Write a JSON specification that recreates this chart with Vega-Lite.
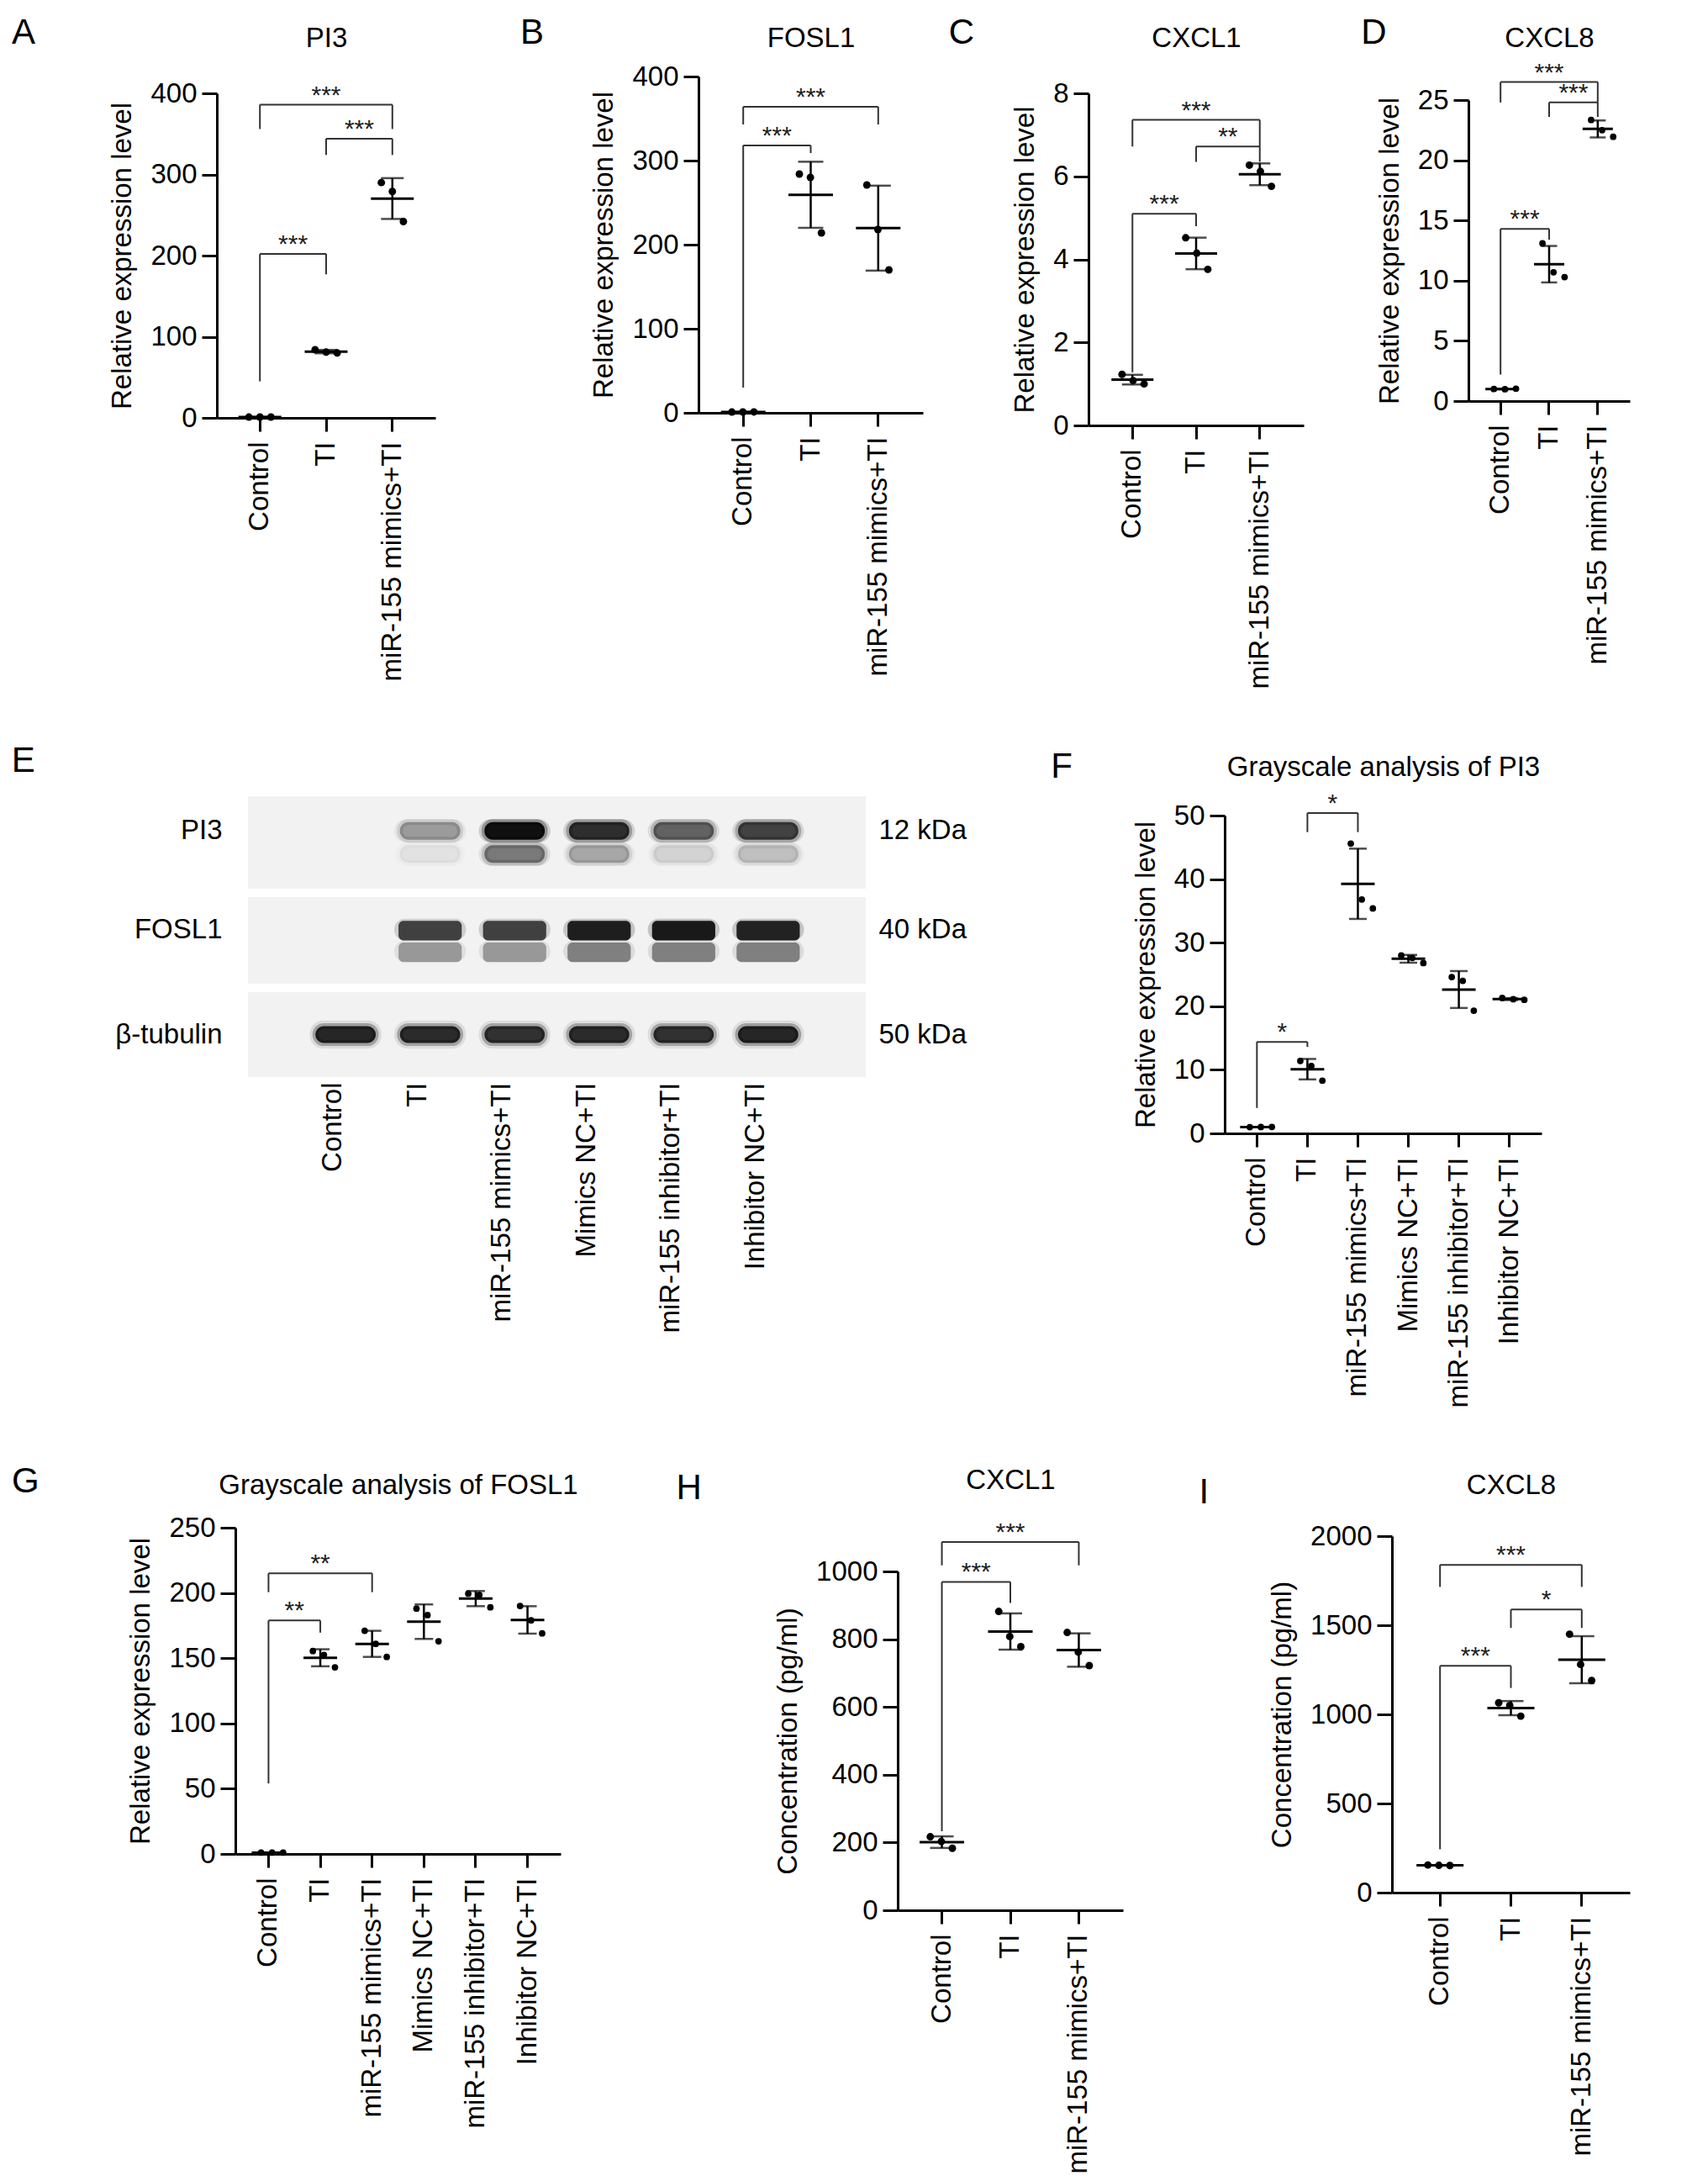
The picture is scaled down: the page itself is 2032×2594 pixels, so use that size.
{
"$schema": "https://vega.github.io/schema/vega-lite/v6.json",
"background": "white",
"padding": {"left": 12, "top": 18, "right": 5, "bottom": 5},
"config": {
 "font": "Liberation Sans",
 "view": {"stroke": null},
 "axis": {"labelFontSize": 33, "titleFontSize": 33, "titleFontWeight": "normal", "labelColor": "black", "titleColor": "black", "domainColor": "black", "tickColor": "black", "domainWidth": 3, "tickWidth": 3, "grid": false, "titleLimit": 1000},
 "title": {"fontSize": 42, "fontWeight": "normal", "anchor": "start", "frame": "bounds", "offset": 0, "color": "black"}
},
"datasets": {
 "pA": [{"g":"Control","r":1,"v":0.95},{"g":"Control","r":2,"v":1.0},{"g":"Control","r":3,"v":1.05},{"g":"TI","r":1,"v":84},{"g":"TI","r":2,"v":81},{"g":"TI","r":3,"v":80},{"g":"miR-155 mimics+TI","r":1,"v":290},{"g":"miR-155 mimics+TI","r":2,"v":279},{"g":"miR-155 mimics+TI","r":3,"v":242}],
 "bA": [{"a":"Control","b":"TI","m":"m1","top":202,"fa":45,"fb":177,"s":"***"},{"a":"Control","b":"miR-155 mimics+TI","m":"TI","top":386,"fa":356,"fb":356,"s":"***"},{"a":"TI","b":"miR-155 mimics+TI","m":"m2","top":344,"fa":324,"fb":324,"s":"***"}],
 "pB": [{"g":"Control","r":1,"v":0.95},{"g":"Control","r":2,"v":1.0},{"g":"Control","r":3,"v":1.05},{"g":"TI","r":1,"v":284},{"g":"TI","r":2,"v":280},{"g":"TI","r":3,"v":214},{"g":"miR-155 mimics+TI","r":1,"v":271},{"g":"miR-155 mimics+TI","r":2,"v":218},{"g":"miR-155 mimics+TI","r":3,"v":170}],
 "bB": [{"a":"Control","b":"TI","m":"m1","top":318,"fa":30,"fb":309,"s":"***"},{"a":"Control","b":"miR-155 mimics+TI","m":"TI","top":364,"fa":343,"fb":343,"s":"***"}],
 "pC": [{"g":"Control","r":1,"v":1.23},{"g":"Control","r":2,"v":1.08},{"g":"Control","r":3,"v":1.0},{"g":"TI","r":1,"v":4.52},{"g":"TI","r":2,"v":4.15},{"g":"TI","r":3,"v":3.76},{"g":"miR-155 mimics+TI","r":1,"v":6.27},{"g":"miR-155 mimics+TI","r":2,"v":6.12},{"g":"miR-155 mimics+TI","r":3,"v":5.76}],
 "bC": [{"a":"Control","b":"TI","m":"m1","top":5.1,"fa":1.28,"fb":4.8,"s":"***"},{"a":"Control","b":"miR-155 mimics+TI","m":"TI","top":7.36,"fa":6.72,"fb":6.72,"s":"***"},{"a":"TI","b":"miR-155 mimics+TI","m":"m2","top":6.72,"fa":6.35,"fb":6.35,"s":"**"}],
 "pD": [{"g":"Control","r":1,"v":1.0},{"g":"Control","r":2,"v":0.98},{"g":"Control","r":3,"v":1.03},{"g":"TI","r":1,"v":13.1},{"g":"TI","r":2,"v":10.7},{"g":"TI","r":3,"v":10.3},{"g":"miR-155 mimics+TI","r":1,"v":23.35},{"g":"miR-155 mimics+TI","r":2,"v":22.5},{"g":"miR-155 mimics+TI","r":3,"v":21.95}],
 "bD": [{"a":"Control","b":"TI","m":"m1","top":14.3,"fa":2.2,"fb":13.4,"s":"***"},{"a":"Control","b":"miR-155 mimics+TI","m":"TI","top":26.5,"fa":24.8,"fb":24.8,"s":"***"},{"a":"TI","b":"miR-155 mimics+TI","m":"m2","top":24.8,"fa":23.6,"fb":23.6,"s":"***"}],
 "pF": [{"g":"Control","r":1,"v":0.98},{"g":"Control","r":2,"v":1.0},{"g":"Control","r":3,"v":1.02},{"g":"TI","r":1,"v":11.4},{"g":"TI","r":2,"v":10.6},{"g":"TI","r":3,"v":8.3},{"g":"miR-155 mimics+TI","r":1,"v":45.6},{"g":"miR-155 mimics+TI","r":2,"v":36.8},{"g":"miR-155 mimics+TI","r":3,"v":35.4},{"g":"Mimics NC+TI","r":1,"v":28.0},{"g":"Mimics NC+TI","r":2,"v":27.6},{"g":"Mimics NC+TI","r":3,"v":26.8},{"g":"miR-155 inhibitor+TI","r":1,"v":24.6},{"g":"miR-155 inhibitor+TI","r":2,"v":24.0},{"g":"miR-155 inhibitor+TI","r":3,"v":19.3},{"g":"Inhibitor NC+TI","r":1,"v":21.3},{"g":"Inhibitor NC+TI","r":2,"v":21.1},{"g":"Inhibitor NC+TI","r":3,"v":21.0}],
 "bF": [{"a":"Control","b":"TI","m":"m1","top":14.4,"fa":4.0,"fb":13.6,"s":"*"},{"a":"TI","b":"miR-155 mimics+TI","m":"m2","top":50.4,"fa":47.4,"fb":47.4,"s":"*"}],
 "pG": [{"g":"Control","r":1,"v":0.98},{"g":"Control","r":2,"v":1.0},{"g":"Control","r":3,"v":1.02},{"g":"TI","r":1,"v":155.5},{"g":"TI","r":2,"v":152.5},{"g":"TI","r":3,"v":143},{"g":"miR-155 mimics+TI","r":1,"v":171},{"g":"miR-155 mimics+TI","r":2,"v":161},{"g":"miR-155 mimics+TI","r":3,"v":151},{"g":"Mimics NC+TI","r":1,"v":188},{"g":"Mimics NC+TI","r":2,"v":183},{"g":"Mimics NC+TI","r":3,"v":163},{"g":"miR-155 inhibitor+TI","r":1,"v":199.5},{"g":"miR-155 inhibitor+TI","r":2,"v":198.5},{"g":"miR-155 inhibitor+TI","r":3,"v":189},{"g":"Inhibitor NC+TI","r":1,"v":190},{"g":"Inhibitor NC+TI","r":2,"v":179},{"g":"Inhibitor NC+TI","r":3,"v":169}],
 "bG": [{"a":"Control","b":"TI","m":"m1","top":178.9,"fa":54,"fb":169.6,"s":"**"},{"a":"Control","b":"miR-155 mimics+TI","m":"TI","top":215,"fa":200.6,"fb":200.6,"s":"**"}],
 "pH": [{"g":"Control","r":1,"v":217},{"g":"Control","r":2,"v":203},{"g":"Control","r":3,"v":183},{"g":"TI","r":1,"v":882},{"g":"TI","r":2,"v":808},{"g":"TI","r":3,"v":778},{"g":"miR-155 mimics+TI","r":1,"v":820},{"g":"miR-155 mimics+TI","r":2,"v":762},{"g":"miR-155 mimics+TI","r":3,"v":722}],
 "bH": [{"a":"Control","b":"TI","m":"m1","top":969,"fa":233,"fb":907,"s":"***"},{"a":"Control","b":"miR-155 mimics+TI","m":"TI","top":1087,"fa":1018,"fb":1018,"s":"***"}],
 "pI": [{"g":"Control","r":1,"v":155},{"g":"Control","r":2,"v":153},{"g":"Control","r":3,"v":152},{"g":"TI","r":1,"v":1065},{"g":"TI","r":2,"v":1050},{"g":"TI","r":3,"v":990},{"g":"miR-155 mimics+TI","r":1,"v":1450},{"g":"miR-155 mimics+TI","r":2,"v":1280},{"g":"miR-155 mimics+TI","r":3,"v":1190}],
 "bI": [{"a":"Control","b":"TI","m":"m1","top":1272,"fa":243,"fb":1148,"s":"***"},{"a":"Control","b":"miR-155 mimics+TI","m":"TI","top":1839,"fa":1715,"fb":1715,"s":"***"},{"a":"TI","b":"miR-155 mimics+TI","m":"m2","top":1588,"fa":1485,"fb":1485,"s":"*"}],
 "blot": [
  {"s":"P","lane":"Control","row":"PI3","I":0},{"s":"P","lane":"TI","row":"PI3","I":0.35},{"s":"P","lane":"miR-155 mimics+TI","row":"PI3","I":1.0},{"s":"P","lane":"Mimics NC+TI","row":"PI3","I":0.85},{"s":"P","lane":"miR-155 inhibitor+TI","row":"PI3","I":0.6},{"s":"P","lane":"Inhibitor NC+TI","row":"PI3","I":0.75},
  {"s":"P","lane":"Control","row":"p-low","I":0},{"s":"P","lane":"TI","row":"p-low","I":0.06},{"s":"P","lane":"miR-155 mimics+TI","row":"p-low","I":0.5},{"s":"P","lane":"Mimics NC+TI","row":"p-low","I":0.3},{"s":"P","lane":"miR-155 inhibitor+TI","row":"p-low","I":0.12},{"s":"P","lane":"Inhibitor NC+TI","row":"p-low","I":0.2},
  {"s":"F","lane":"Control","row":"FOSL1","I":0},{"s":"F","lane":"TI","row":"FOSL1","I":0.75},{"s":"F","lane":"miR-155 mimics+TI","row":"FOSL1","I":0.75},{"s":"F","lane":"Mimics NC+TI","row":"FOSL1","I":0.92},{"s":"F","lane":"miR-155 inhibitor+TI","row":"FOSL1","I":0.95},{"s":"F","lane":"Inhibitor NC+TI","row":"FOSL1","I":0.9},
  {"s":"F","lane":"Control","row":"f-smear","I":0},{"s":"F","lane":"TI","row":"f-smear","I":0.35},{"s":"F","lane":"miR-155 mimics+TI","row":"f-smear","I":0.35},{"s":"F","lane":"Mimics NC+TI","row":"f-smear","I":0.45},{"s":"F","lane":"miR-155 inhibitor+TI","row":"f-smear","I":0.45},{"s":"F","lane":"Inhibitor NC+TI","row":"f-smear","I":0.45},
  {"s":"T","lane":"Control","row":"β-tubulin","I":0.9},{"s":"T","lane":"TI","row":"β-tubulin","I":0.88},{"s":"T","lane":"miR-155 mimics+TI","row":"β-tubulin","I":0.85},{"s":"T","lane":"Mimics NC+TI","row":"β-tubulin","I":0.88},{"s":"T","lane":"miR-155 inhibitor+TI","row":"β-tubulin","I":0.85},{"s":"T","lane":"Inhibitor NC+TI","row":"β-tubulin","I":0.9}
 ]
},
"spacing": 64,
"vconcat": [
 {"spacing": 0, "hconcat": [
  {"width": 1, "height": 1, "data": {"values": []}, "mark": "point"},
  {"spacing": 30, "hconcat": [
   {"spacing": 100, "hconcat": [
    {"title": {"text": "A", "dx": -116, "dy": 36}, "width": 260, "height": 406, "resolve": {"axis": {"x": "independent", "y": "independent"}},
     "layer": [
      {"data": {"name": "bA"}, "mark": {"type": "rule", "color": "#333", "strokeWidth": 2}, "encoding": {"x": {"field": "a", "type": "nominal", "scale": {"type": "band", "domain": ["Control","m1","TI","m2","miR-155 mimics+TI"], "paddingInner": 0, "paddingOuter": 0.8}, "axis": null}, "x2": {"field": "b"}, "y": {"field": "top", "type": "quantitative", "scale": {"domain": [0,400], "nice": false, "range": [406,20]}, "axis": null}}},
      {"data": {"name": "bA"}, "mark": {"type": "rule", "color": "#333", "strokeWidth": 2}, "encoding": {"x": {"field": "a", "type": "nominal", "scale": {"type": "band", "domain": ["Control","m1","TI","m2","miR-155 mimics+TI"], "paddingInner": 0, "paddingOuter": 0.8}, "axis": null}, "y": {"field": "fa", "type": "quantitative", "scale": {"domain": [0,400], "nice": false, "range": [406,20]}, "axis": null}, "y2": {"field": "top"}}},
      {"data": {"name": "bA"}, "mark": {"type": "rule", "color": "#333", "strokeWidth": 2}, "encoding": {"x": {"field": "b", "type": "nominal", "scale": {"type": "band", "domain": ["Control","m1","TI","m2","miR-155 mimics+TI"], "paddingInner": 0, "paddingOuter": 0.8}, "axis": null}, "y": {"field": "fb", "type": "quantitative", "scale": {"domain": [0,400], "nice": false, "range": [406,20]}, "axis": null}, "y2": {"field": "top"}}},
      {"data": {"name": "bA"}, "mark": {"type": "text", "fontSize": 30, "baseline": "alphabetic", "dy": -2, "color": "#222"}, "encoding": {"x": {"field": "m", "type": "nominal", "scale": {"type": "band", "domain": ["Control","m1","TI","m2","miR-155 mimics+TI"], "paddingInner": 0, "paddingOuter": 0.8}, "axis": null}, "y": {"field": "top", "type": "quantitative", "scale": {"domain": [0,400], "nice": false, "range": [406,20]}, "axis": null}, "text": {"field": "s"}}},
      {"data": {"name": "pA"}, "mark": {"type": "errorbar", "extent": "stdev", "color": "black", "rule": {"strokeWidth": 2.5}, "ticks": {"size": 27, "thickness": 2.5}}, "encoding": {"x": {"field": "g", "type": "nominal", "scale": {"type": "band", "domain": ["Control","m1","TI","m2","miR-155 mimics+TI"], "paddingInner": 0, "paddingOuter": 0.8}, "axis": null}, "y": {"field": "v", "type": "quantitative", "scale": {"domain": [0,400], "nice": false, "range": [406,20]}, "axis": null}}},
      {"data": {"name": "pA"}, "mark": {"type": "tick", "color": "black", "size": 51, "thickness": 3}, "encoding": {"x": {"field": "g", "type": "nominal", "scale": {"type": "band", "domain": ["Control","m1","TI","m2","miR-155 mimics+TI"], "paddingInner": 0, "paddingOuter": 0.8}, "axis": {"orient": "top", "title": "PI3", "domain": false, "ticks": false, "labels": false, "titlePadding": 29}}, "y": {"field": "v", "aggregate": "mean", "type": "quantitative", "scale": {"domain": [0,400], "nice": false, "range": [406,20]}, "axis": null}}},
      {"data": {"name": "pA"}, "mark": {"type": "point", "filled": true, "color": "black", "size": 80, "opacity": 1}, "encoding": {"x": {"field": "g", "type": "nominal", "scale": {"type": "band", "domain": ["Control","m1","TI","m2","miR-155 mimics+TI"], "paddingInner": 0, "paddingOuter": 0.8}, "axis": {"orient": "bottom", "values": ["Control","TI","miR-155 mimics+TI"], "labelAngle": -90, "tickSize": 16, "labelPadding": 12, "title": null, "labelLimit": 0}}, "xOffset": {"field": "r", "type": "nominal"}, "y": {"field": "v", "type": "quantitative", "scale": {"domain": [0,400], "nice": false, "range": [406,20]}, "axis": {"values": [0,100,200,300,400], "tickSize": 18, "labelPadding": 6, "title": "Relative expression level", "titlePadding": 16}}}}
     ]},
    {"title": {"text": "B", "dx": -84, "dy": 36}, "width": 267, "height": 400, "resolve": {"axis": {"x": "independent", "y": "independent"}},
     "layer": [
      {"data": {"name": "bB"}, "mark": {"type": "rule", "color": "#333", "strokeWidth": 2}, "encoding": {"x": {"field": "a", "type": "nominal", "scale": {"type": "band", "domain": ["Control","m1","TI","m2","miR-155 mimics+TI"], "paddingInner": 0, "paddingOuter": 0.825}, "axis": null}, "x2": {"field": "b"}, "y": {"field": "top", "type": "quantitative", "scale": {"domain": [0,400], "nice": false}, "axis": null}}},
      {"data": {"name": "bB"}, "mark": {"type": "rule", "color": "#333", "strokeWidth": 2}, "encoding": {"x": {"field": "a", "type": "nominal", "scale": {"type": "band", "domain": ["Control","m1","TI","m2","miR-155 mimics+TI"], "paddingInner": 0, "paddingOuter": 0.825}, "axis": null}, "y": {"field": "fa", "type": "quantitative", "scale": {"domain": [0,400], "nice": false}, "axis": null}, "y2": {"field": "top"}}},
      {"data": {"name": "bB"}, "mark": {"type": "rule", "color": "#333", "strokeWidth": 2}, "encoding": {"x": {"field": "b", "type": "nominal", "scale": {"type": "band", "domain": ["Control","m1","TI","m2","miR-155 mimics+TI"], "paddingInner": 0, "paddingOuter": 0.825}, "axis": null}, "y": {"field": "fb", "type": "quantitative", "scale": {"domain": [0,400], "nice": false}, "axis": null}, "y2": {"field": "top"}}},
      {"data": {"name": "bB"}, "mark": {"type": "text", "fontSize": 30, "baseline": "alphabetic", "dy": -2, "color": "#222"}, "encoding": {"x": {"field": "m", "type": "nominal", "scale": {"type": "band", "domain": ["Control","m1","TI","m2","miR-155 mimics+TI"], "paddingInner": 0, "paddingOuter": 0.825}, "axis": null}, "y": {"field": "top", "type": "quantitative", "scale": {"domain": [0,400], "nice": false}, "axis": null}, "text": {"field": "s"}}},
      {"data": {"name": "pB"}, "mark": {"type": "errorbar", "extent": "stdev", "color": "black", "rule": {"strokeWidth": 2.5}, "ticks": {"size": 30, "thickness": 2.5}}, "encoding": {"x": {"field": "g", "type": "nominal", "scale": {"type": "band", "domain": ["Control","m1","TI","m2","miR-155 mimics+TI"], "paddingInner": 0, "paddingOuter": 0.825}, "axis": null}, "y": {"field": "v", "type": "quantitative", "scale": {"domain": [0,400], "nice": false}, "axis": null}}},
      {"data": {"name": "pB"}, "mark": {"type": "tick", "color": "black", "size": 53, "thickness": 3}, "encoding": {"x": {"field": "g", "type": "nominal", "scale": {"type": "band", "domain": ["Control","m1","TI","m2","miR-155 mimics+TI"], "paddingInner": 0, "paddingOuter": 0.825}, "axis": {"orient": "top", "title": "FOSL1", "domain": false, "ticks": false, "labels": false, "titlePadding": 29}}, "y": {"field": "v", "aggregate": "mean", "type": "quantitative", "scale": {"domain": [0,400], "nice": false}, "axis": null}}},
      {"data": {"name": "pB"}, "mark": {"type": "point", "filled": true, "color": "black", "size": 80, "opacity": 1}, "encoding": {"x": {"field": "g", "type": "nominal", "scale": {"type": "band", "domain": ["Control","m1","TI","m2","miR-155 mimics+TI"], "paddingInner": 0, "paddingOuter": 0.825}, "axis": {"orient": "bottom", "values": ["Control","TI","miR-155 mimics+TI"], "labelAngle": -90, "tickSize": 16, "labelPadding": 12, "title": null, "labelLimit": 0}}, "xOffset": {"field": "r", "type": "nominal"}, "y": {"field": "v", "type": "quantitative", "scale": {"domain": [0,400], "nice": false}, "axis": {"values": [0,100,200,300,400], "tickSize": 18, "labelPadding": 6, "title": "Relative expression level", "titlePadding": 16}}}}
     ]}
   ]},
   {"spacing": 68, "hconcat": [
    {"title": {"text": "C", "dx": -75, "dy": 36}, "width": 256, "height": 415, "resolve": {"axis": {"x": "independent", "y": "independent"}},
     "layer": [
      {"data": {"name": "bC"}, "mark": {"type": "rule", "color": "#333", "strokeWidth": 2}, "encoding": {"x": {"field": "a", "type": "nominal", "scale": {"type": "band", "domain": ["Control","m1","TI","m2","miR-155 mimics+TI"], "paddingInner": 0, "paddingOuter": 0.88}, "axis": null}, "x2": {"field": "b"}, "y": {"field": "top", "type": "quantitative", "scale": {"domain": [0,8], "nice": false, "range": [415,20]}, "axis": null}}},
      {"data": {"name": "bC"}, "mark": {"type": "rule", "color": "#333", "strokeWidth": 2}, "encoding": {"x": {"field": "a", "type": "nominal", "scale": {"type": "band", "domain": ["Control","m1","TI","m2","miR-155 mimics+TI"], "paddingInner": 0, "paddingOuter": 0.88}, "axis": null}, "y": {"field": "fa", "type": "quantitative", "scale": {"domain": [0,8], "nice": false, "range": [415,20]}, "axis": null}, "y2": {"field": "top"}}},
      {"data": {"name": "bC"}, "mark": {"type": "rule", "color": "#333", "strokeWidth": 2}, "encoding": {"x": {"field": "b", "type": "nominal", "scale": {"type": "band", "domain": ["Control","m1","TI","m2","miR-155 mimics+TI"], "paddingInner": 0, "paddingOuter": 0.88}, "axis": null}, "y": {"field": "fb", "type": "quantitative", "scale": {"domain": [0,8], "nice": false, "range": [415,20]}, "axis": null}, "y2": {"field": "top"}}},
      {"data": {"name": "bC"}, "mark": {"type": "text", "fontSize": 30, "baseline": "alphabetic", "dy": -2, "color": "#222"}, "encoding": {"x": {"field": "m", "type": "nominal", "scale": {"type": "band", "domain": ["Control","m1","TI","m2","miR-155 mimics+TI"], "paddingInner": 0, "paddingOuter": 0.88}, "axis": null}, "y": {"field": "top", "type": "quantitative", "scale": {"domain": [0,8], "nice": false, "range": [415,20]}, "axis": null}, "text": {"field": "s"}}},
      {"data": {"name": "pC"}, "mark": {"type": "errorbar", "extent": "stdev", "color": "black", "rule": {"strokeWidth": 2.5}, "ticks": {"size": 25, "thickness": 2.5}}, "encoding": {"x": {"field": "g", "type": "nominal", "scale": {"type": "band", "domain": ["Control","m1","TI","m2","miR-155 mimics+TI"], "paddingInner": 0, "paddingOuter": 0.88}, "axis": null}, "y": {"field": "v", "type": "quantitative", "scale": {"domain": [0,8], "nice": false, "range": [415,20]}, "axis": null}}},
      {"data": {"name": "pC"}, "mark": {"type": "tick", "color": "black", "size": 50, "thickness": 3}, "encoding": {"x": {"field": "g", "type": "nominal", "scale": {"type": "band", "domain": ["Control","m1","TI","m2","miR-155 mimics+TI"], "paddingInner": 0, "paddingOuter": 0.88}, "axis": {"orient": "top", "title": "CXCL1", "domain": false, "ticks": false, "labels": false, "titlePadding": 29}}, "y": {"field": "v", "aggregate": "mean", "type": "quantitative", "scale": {"domain": [0,8], "nice": false, "range": [415,20]}, "axis": null}}},
      {"data": {"name": "pC"}, "mark": {"type": "point", "filled": true, "color": "black", "size": 80, "opacity": 1}, "encoding": {"x": {"field": "g", "type": "nominal", "scale": {"type": "band", "domain": ["Control","m1","TI","m2","miR-155 mimics+TI"], "paddingInner": 0, "paddingOuter": 0.88}, "axis": {"orient": "bottom", "values": ["Control","TI","miR-155 mimics+TI"], "labelAngle": -90, "tickSize": 16, "labelPadding": 12, "title": null, "labelLimit": 0}}, "xOffset": {"field": "r", "type": "nominal"}, "y": {"field": "v", "type": "quantitative", "scale": {"domain": [0,8], "nice": false, "range": [415,20]}, "axis": {"values": [0,2,4,6,8], "tickSize": 18, "labelPadding": 6, "title": "Relative expression level", "titlePadding": 16}}}}
     ]},
    {"title": {"text": "D", "dx": -18, "dy": 36}, "width": 192, "height": 386, "resolve": {"axis": {"x": "independent", "y": "independent"}},
     "layer": [
      {"data": {"name": "bD"}, "mark": {"type": "rule", "color": "#333", "strokeWidth": 2}, "encoding": {"x": {"field": "a", "type": "nominal", "scale": {"type": "band", "domain": ["Control","m1","TI","m2","miR-155 mimics+TI"], "paddingInner": 0, "paddingOuter": 0.82}, "axis": null}, "x2": {"field": "b"}, "y": {"field": "top", "type": "quantitative", "scale": {"domain": [0,25], "nice": false, "range": [386,28]}, "axis": null}}},
      {"data": {"name": "bD"}, "mark": {"type": "rule", "color": "#333", "strokeWidth": 2}, "encoding": {"x": {"field": "a", "type": "nominal", "scale": {"type": "band", "domain": ["Control","m1","TI","m2","miR-155 mimics+TI"], "paddingInner": 0, "paddingOuter": 0.82}, "axis": null}, "y": {"field": "fa", "type": "quantitative", "scale": {"domain": [0,25], "nice": false, "range": [386,28]}, "axis": null}, "y2": {"field": "top"}}},
      {"data": {"name": "bD"}, "mark": {"type": "rule", "color": "#333", "strokeWidth": 2}, "encoding": {"x": {"field": "b", "type": "nominal", "scale": {"type": "band", "domain": ["Control","m1","TI","m2","miR-155 mimics+TI"], "paddingInner": 0, "paddingOuter": 0.82}, "axis": null}, "y": {"field": "fb", "type": "quantitative", "scale": {"domain": [0,25], "nice": false, "range": [386,28]}, "axis": null}, "y2": {"field": "top"}}},
      {"data": {"name": "bD"}, "mark": {"type": "text", "fontSize": 30, "baseline": "alphabetic", "dy": -2, "color": "#222"}, "encoding": {"x": {"field": "m", "type": "nominal", "scale": {"type": "band", "domain": ["Control","m1","TI","m2","miR-155 mimics+TI"], "paddingInner": 0, "paddingOuter": 0.82}, "axis": null}, "y": {"field": "top", "type": "quantitative", "scale": {"domain": [0,25], "nice": false, "range": [386,28]}, "axis": null}, "text": {"field": "s"}}},
      {"data": {"name": "pD"}, "mark": {"type": "errorbar", "extent": "stdev", "color": "black", "rule": {"strokeWidth": 2.5}, "ticks": {"size": 19, "thickness": 2.5}}, "encoding": {"x": {"field": "g", "type": "nominal", "scale": {"type": "band", "domain": ["Control","m1","TI","m2","miR-155 mimics+TI"], "paddingInner": 0, "paddingOuter": 0.82}, "axis": null}, "y": {"field": "v", "type": "quantitative", "scale": {"domain": [0,25], "nice": false, "range": [386,28]}, "axis": null}}},
      {"data": {"name": "pD"}, "mark": {"type": "tick", "color": "black", "size": 36, "thickness": 3}, "encoding": {"x": {"field": "g", "type": "nominal", "scale": {"type": "band", "domain": ["Control","m1","TI","m2","miR-155 mimics+TI"], "paddingInner": 0, "paddingOuter": 0.82}, "axis": {"orient": "top", "title": "CXCL8", "domain": false, "ticks": false, "labels": false, "titlePadding": 29}}, "y": {"field": "v", "aggregate": "mean", "type": "quantitative", "scale": {"domain": [0,25], "nice": false, "range": [386,28]}, "axis": null}}},
      {"data": {"name": "pD"}, "mark": {"type": "point", "filled": true, "color": "black", "size": 60, "opacity": 1}, "encoding": {"x": {"field": "g", "type": "nominal", "scale": {"type": "band", "domain": ["Control","m1","TI","m2","miR-155 mimics+TI"], "paddingInner": 0, "paddingOuter": 0.82}, "axis": {"orient": "bottom", "values": ["Control","TI","miR-155 mimics+TI"], "labelAngle": -90, "tickSize": 16, "labelPadding": 12, "title": null, "labelLimit": 0}}, "xOffset": {"field": "r", "type": "nominal"}, "y": {"field": "v", "type": "quantitative", "scale": {"domain": [0,25], "nice": false, "range": [386,28]}, "axis": {"values": [0,5,10,15,20,25], "tickSize": 18, "labelPadding": 6, "title": "Relative expression level", "titlePadding": 16}}}}
     ]}
   ]}
  ]}
 ]},
 {"spacing": 66, "vconcat": [
  {"spacing": 0, "hconcat": [
   {"width": 1, "height": 1, "data": {"values": []}, "mark": "point"},
   {"spacing": 100, "hconcat": [
    {"title": {"text": "E", "dx": -123, "dy": -16}, "spacing": 10, "vconcat": [
     {"width": 735, "height": 110, "view": {"fill": "#f2f2f2", "stroke": null}, "data": {"name": "blot"}, "transform": [{"filter": "datum.s == 'P'"}],
      "resolve": {"axis": {"x": "independent", "y": "independent"}, "scale": {"fillOpacity": "independent", "strokeOpacity": "independent"}},
      "layer": [
       {"mark": {"type": "rect", "color": "black", "cornerRadius": 16},
        "encoding": {"x": {"field": "lane", "type": "nominal", "bandPosition": 0, "scale": {"type": "band", "domain": ["Control","TI","miR-155 mimics+TI","Mimics NC+TI","miR-155 inhibitor+TI","Inhibitor NC+TI"], "paddingInner": 0.15, "paddingOuter": 0.73}, "axis": null},
         "x2": {"field": "lane", "bandPosition": 1},
         "y": {"field": "row", "type": "nominal", "bandPosition": 0, "scale": {"domain": ["p0","PI3","p-low","p1"], "paddingInner": 0, "paddingOuter": 0}, "axis": null},
         "y2": {"field": "row", "bandPosition": 1},
         "fillOpacity": {"field": "I", "type": "quantitative", "scale": {"domain": [0,1], "range": [0,0.15]}, "legend": null}}},
       {"mark": {"type": "rect", "color": "black", "cornerRadius": 10, "strokeWidth": 7},
        "encoding": {"x": {"field": "lane", "type": "nominal", "bandPosition": 0.08, "scale": {"type": "band", "domain": ["Control","TI","miR-155 mimics+TI","Mimics NC+TI","miR-155 inhibitor+TI","Inhibitor NC+TI"], "paddingInner": 0.15, "paddingOuter": 0.73}, "axis": null},
         "x2": {"field": "lane", "bandPosition": 0.92},
         "y": {"field": "row", "type": "nominal", "bandPosition": 0.12, "scale": {"domain": ["p0","PI3","p-low","p1"], "paddingInner": 0, "paddingOuter": 0}, "axis": null},
         "y2": {"field": "row", "bandPosition": 0.88},
         "fillOpacity": {"field": "I", "type": "quantitative", "scale": {"domain": [0,1], "range": [0,0.92]}, "legend": null},
         "stroke": {"value": "black"},
         "strokeOpacity": {"field": "I", "type": "quantitative", "scale": {"domain": [0,1], "range": [0,0.3]}, "legend": null}}},
       {"mark": {"type": "rect", "opacity": 0},
        "encoding": {"x": {"field": "lane", "type": "nominal", "scale": {"type": "band", "domain": ["Control","TI","miR-155 mimics+TI","Mimics NC+TI","miR-155 inhibitor+TI","Inhibitor NC+TI"], "paddingInner": 0.15, "paddingOuter": 0.73}, "axis": null},
         "y": {"field": "row", "type": "nominal", "scale": {"domain": ["p0","PI3","p-low","p1"], "paddingInner": 0, "paddingOuter": 0}, "axis": {"orient": "left", "values": ["PI3"], "domain": false, "ticks": false, "labelPadding": 31, "title": null}}}},
       {"mark": {"type": "rect", "opacity": 0},
        "encoding": {"x": {"field": "lane", "type": "nominal", "scale": {"type": "band", "domain": ["Control","TI","miR-155 mimics+TI","Mimics NC+TI","miR-155 inhibitor+TI","Inhibitor NC+TI"], "paddingInner": 0.15, "paddingOuter": 0.73}, "axis": null},
         "y": {"field": "row", "type": "nominal", "scale": {"domain": ["p0","PI3","p-low","p1"], "paddingInner": 0, "paddingOuter": 0}, "axis": {"orient": "right", "values": ["PI3"], "labelExpr": "'12 kDa'", "domain": false, "ticks": false, "labelPadding": 15, "title": null}}}}
      ]},
     {"width": 735, "height": 103, "view": {"fill": "#f2f2f2", "stroke": null}, "data": {"name": "blot"}, "transform": [{"filter": "datum.s == 'F'"}],
      "resolve": {"axis": {"x": "independent", "y": "independent"}, "scale": {"fillOpacity": "independent"}},
      "layer": [
       {"mark": {"type": "rect", "color": "black", "cornerRadius": 16},
        "encoding": {"x": {"field": "lane", "type": "nominal", "bandPosition": 0, "scale": {"type": "band", "domain": ["Control","TI","miR-155 mimics+TI","Mimics NC+TI","miR-155 inhibitor+TI","Inhibitor NC+TI"], "paddingInner": 0.15, "paddingOuter": 0.73}, "axis": null},
         "x2": {"field": "lane", "bandPosition": 1},
         "y": {"field": "row", "type": "nominal", "bandPosition": 0, "scale": {"domain": ["f0","FOSL1","f-smear","f1"], "paddingInner": 0, "paddingOuter": 0}, "axis": null},
         "y2": {"field": "row", "bandPosition": 1},
         "fillOpacity": {"field": "I", "type": "quantitative", "scale": {"domain": [0,1], "range": [0,0.2]}, "legend": null}}},
       {"mark": {"type": "rect", "color": "black", "cornerRadius": 6},
        "encoding": {"x": {"field": "lane", "type": "nominal", "bandPosition": 0.06, "scale": {"type": "band", "domain": ["Control","TI","miR-155 mimics+TI","Mimics NC+TI","miR-155 inhibitor+TI","Inhibitor NC+TI"], "paddingInner": 0.15, "paddingOuter": 0.73}, "axis": null},
         "x2": {"field": "lane", "bandPosition": 0.94},
         "y": {"field": "row", "type": "nominal", "bandPosition": 0.1, "scale": {"domain": ["f0","FOSL1","f-smear","f1"], "paddingInner": 0, "paddingOuter": 0}, "axis": null},
         "y2": {"field": "row", "bandPosition": 1.0},
         "fillOpacity": {"field": "I", "type": "quantitative", "scale": {"domain": [0,1], "range": [0,0.92]}, "legend": null}}},
       {"mark": {"type": "rect", "opacity": 0},
        "encoding": {"x": {"field": "lane", "type": "nominal", "scale": {"type": "band", "domain": ["Control","TI","miR-155 mimics+TI","Mimics NC+TI","miR-155 inhibitor+TI","Inhibitor NC+TI"], "paddingInner": 0.15, "paddingOuter": 0.73}, "axis": null},
         "y": {"field": "row", "type": "nominal", "scale": {"domain": ["f0","FOSL1","f-smear","f1"], "paddingInner": 0, "paddingOuter": 0}, "axis": {"orient": "left", "values": ["FOSL1"], "domain": false, "ticks": false, "labelPadding": 31, "title": null}}}},
       {"mark": {"type": "rect", "opacity": 0},
        "encoding": {"x": {"field": "lane", "type": "nominal", "scale": {"type": "band", "domain": ["Control","TI","miR-155 mimics+TI","Mimics NC+TI","miR-155 inhibitor+TI","Inhibitor NC+TI"], "paddingInner": 0.15, "paddingOuter": 0.73}, "axis": null},
         "y": {"field": "row", "type": "nominal", "scale": {"domain": ["f0","FOSL1","f-smear","f1"], "paddingInner": 0, "paddingOuter": 0}, "axis": {"orient": "right", "values": ["FOSL1"], "labelExpr": "'40 kDa'", "domain": false, "ticks": false, "labelPadding": 15, "title": null}}}}
      ]},
     {"width": 735, "height": 101, "view": {"fill": "#f2f2f2", "stroke": null}, "data": {"name": "blot"}, "transform": [{"filter": "datum.s == 'T'"}],
      "resolve": {"axis": {"x": "independent", "y": "independent"}, "scale": {"fillOpacity": "independent", "strokeOpacity": "independent"}},
      "layer": [
       {"mark": {"type": "rect", "color": "black", "cornerRadius": 16},
        "encoding": {"x": {"field": "lane", "type": "nominal", "bandPosition": 0, "scale": {"type": "band", "domain": ["Control","TI","miR-155 mimics+TI","Mimics NC+TI","miR-155 inhibitor+TI","Inhibitor NC+TI"], "paddingInner": 0.15, "paddingOuter": 0.73}, "axis": null},
         "x2": {"field": "lane", "bandPosition": 1},
         "y": {"field": "row", "type": "nominal", "bandPosition": 0, "scale": {"domain": ["t0","β-tubulin","t1"], "paddingInner": 0, "paddingOuter": 0}, "axis": null},
         "y2": {"field": "row", "bandPosition": 1},
         "fillOpacity": {"field": "I", "type": "quantitative", "scale": {"domain": [0,1], "range": [0,0.1]}, "legend": null}}},
       {"mark": {"type": "rect", "color": "black", "cornerRadius": 10, "strokeWidth": 7},
        "encoding": {"x": {"field": "lane", "type": "nominal", "bandPosition": 0.08, "scale": {"type": "band", "domain": ["Control","TI","miR-155 mimics+TI","Mimics NC+TI","miR-155 inhibitor+TI","Inhibitor NC+TI"], "paddingInner": 0.15, "paddingOuter": 0.73}, "axis": null},
         "x2": {"field": "lane", "bandPosition": 0.92},
         "y": {"field": "row", "type": "nominal", "bandPosition": 0.2, "scale": {"domain": ["t0","β-tubulin","t1"], "paddingInner": 0, "paddingOuter": 0}, "axis": null},
         "y2": {"field": "row", "bandPosition": 0.8},
         "fillOpacity": {"field": "I", "type": "quantitative", "scale": {"domain": [0,1], "range": [0,0.92]}, "legend": null},
         "stroke": {"value": "black"},
         "strokeOpacity": {"field": "I", "type": "quantitative", "scale": {"domain": [0,1], "range": [0,0.3]}, "legend": null}}},
       {"mark": {"type": "rect", "opacity": 0},
        "encoding": {"x": {"field": "lane", "type": "nominal", "scale": {"type": "band", "domain": ["Control","TI","miR-155 mimics+TI","Mimics NC+TI","miR-155 inhibitor+TI","Inhibitor NC+TI"], "paddingInner": 0.15, "paddingOuter": 0.73}, "axis": {"orient": "bottom", "labelAngle": -90, "domain": false, "ticks": false, "labelPadding": 6, "labelOffset": -15, "title": null, "labelLimit": 0}},
         "y": {"field": "row", "type": "nominal", "scale": {"domain": ["t0","β-tubulin","t1"], "paddingInner": 0, "paddingOuter": 0}, "axis": {"orient": "left", "values": ["β-tubulin"], "domain": false, "ticks": false, "labelPadding": 31, "title": null}}}},
       {"mark": {"type": "rect", "opacity": 0},
        "encoding": {"x": {"field": "lane", "type": "nominal", "scale": {"type": "band", "domain": ["Control","TI","miR-155 mimics+TI","Mimics NC+TI","miR-155 inhibitor+TI","Inhibitor NC+TI"], "paddingInner": 0.15, "paddingOuter": 0.73}, "axis": null},
         "y": {"field": "row", "type": "nominal", "scale": {"domain": ["t0","β-tubulin","t1"], "paddingInner": 0, "paddingOuter": 0}, "axis": {"orient": "right", "values": ["β-tubulin"], "labelExpr": "'50 kDa'", "domain": false, "ticks": false, "labelPadding": 15, "title": null}}}}
      ]}
    ]},
    {"title": {"text": "F", "dx": -97, "dy": 42}, "width": 377, "height": 401, "resolve": {"axis": {"x": "independent", "y": "independent"}},
     "layer": [
      {"data": {"name": "bF"}, "mark": {"type": "rule", "color": "#333", "strokeWidth": 2}, "encoding": {"x": {"field": "a", "type": "nominal", "scale": {"type": "band", "domain": ["Control","m1","TI","m2","miR-155 mimics+TI","m3","Mimics NC+TI","m4","miR-155 inhibitor+TI","m5","Inhibitor NC+TI"], "paddingInner": 0, "paddingOuter": 0.777}, "axis": null}, "x2": {"field": "b"}, "y": {"field": "top", "type": "quantitative", "scale": {"domain": [0,50], "nice": false, "range": [401,23]}, "axis": null}}},
      {"data": {"name": "bF"}, "mark": {"type": "rule", "color": "#333", "strokeWidth": 2}, "encoding": {"x": {"field": "a", "type": "nominal", "scale": {"type": "band", "domain": ["Control","m1","TI","m2","miR-155 mimics+TI","m3","Mimics NC+TI","m4","miR-155 inhibitor+TI","m5","Inhibitor NC+TI"], "paddingInner": 0, "paddingOuter": 0.777}, "axis": null}, "y": {"field": "fa", "type": "quantitative", "scale": {"domain": [0,50], "nice": false, "range": [401,23]}, "axis": null}, "y2": {"field": "top"}}},
      {"data": {"name": "bF"}, "mark": {"type": "rule", "color": "#333", "strokeWidth": 2}, "encoding": {"x": {"field": "b", "type": "nominal", "scale": {"type": "band", "domain": ["Control","m1","TI","m2","miR-155 mimics+TI","m3","Mimics NC+TI","m4","miR-155 inhibitor+TI","m5","Inhibitor NC+TI"], "paddingInner": 0, "paddingOuter": 0.777}, "axis": null}, "y": {"field": "fb", "type": "quantitative", "scale": {"domain": [0,50], "nice": false, "range": [401,23]}, "axis": null}, "y2": {"field": "top"}}},
      {"data": {"name": "bF"}, "mark": {"type": "text", "fontSize": 30, "baseline": "alphabetic", "dy": -2, "color": "#222"}, "encoding": {"x": {"field": "m", "type": "nominal", "scale": {"type": "band", "domain": ["Control","m1","TI","m2","miR-155 mimics+TI","m3","Mimics NC+TI","m4","miR-155 inhibitor+TI","m5","Inhibitor NC+TI"], "paddingInner": 0, "paddingOuter": 0.777}, "axis": null}, "y": {"field": "top", "type": "quantitative", "scale": {"domain": [0,50], "nice": false, "range": [401,23]}, "axis": null}, "text": {"field": "s"}}},
      {"data": {"name": "pF"}, "mark": {"type": "errorbar", "extent": "stdev", "color": "black", "rule": {"strokeWidth": 2.5}, "ticks": {"size": 21, "thickness": 2.5}}, "encoding": {"x": {"field": "g", "type": "nominal", "scale": {"type": "band", "domain": ["Control","m1","TI","m2","miR-155 mimics+TI","m3","Mimics NC+TI","m4","miR-155 inhibitor+TI","m5","Inhibitor NC+TI"], "paddingInner": 0, "paddingOuter": 0.777}, "axis": null}, "y": {"field": "v", "type": "quantitative", "scale": {"domain": [0,50], "nice": false, "range": [401,23]}, "axis": null}}},
      {"data": {"name": "pF"}, "mark": {"type": "tick", "color": "black", "size": 40, "thickness": 3}, "encoding": {"x": {"field": "g", "type": "nominal", "scale": {"type": "band", "domain": ["Control","m1","TI","m2","miR-155 mimics+TI","m3","Mimics NC+TI","m4","miR-155 inhibitor+TI","m5","Inhibitor NC+TI"], "paddingInner": 0, "paddingOuter": 0.777}, "axis": {"orient": "top", "title": "Grayscale analysis of PI3", "domain": false, "ticks": false, "labels": false, "titlePadding": 18}}, "y": {"field": "v", "aggregate": "mean", "type": "quantitative", "scale": {"domain": [0,50], "nice": false, "range": [401,23]}, "axis": null}}},
      {"data": {"name": "pF"}, "mark": {"type": "point", "filled": true, "color": "black", "size": 60, "opacity": 1}, "encoding": {"x": {"field": "g", "type": "nominal", "scale": {"type": "band", "domain": ["Control","m1","TI","m2","miR-155 mimics+TI","m3","Mimics NC+TI","m4","miR-155 inhibitor+TI","m5","Inhibitor NC+TI"], "paddingInner": 0, "paddingOuter": 0.777}, "axis": {"orient": "bottom", "values": ["Control","TI","miR-155 mimics+TI","Mimics NC+TI","miR-155 inhibitor+TI","Inhibitor NC+TI"], "labelAngle": -90, "tickSize": 16, "labelPadding": 12, "title": null, "labelLimit": 0}}, "xOffset": {"field": "r", "type": "nominal"}, "y": {"field": "v", "type": "quantitative", "scale": {"domain": [0,50], "nice": false, "range": [401,23]}, "axis": {"values": [0,10,20,30,40,50], "tickSize": 18, "labelPadding": 6, "title": "Relative expression level", "titlePadding": 16}}}}
     ]}
   ]}
  ]},
  {"spacing": 0, "hconcat": [
   {"width": 1, "height": 1, "data": {"values": []}, "mark": "point"},
   {"spacing": 116, "hconcat": [
    {"title": {"text": "G", "dx": -138, "dy": 38}, "width": 387, "height": 388, "resolve": {"axis": {"x": "independent", "y": "independent"}},
     "layer": [
      {"data": {"name": "bG"}, "mark": {"type": "rule", "color": "#333", "strokeWidth": 2}, "encoding": {"x": {"field": "a", "type": "nominal", "scale": {"type": "band", "domain": ["Control","m1","TI","m2","miR-155 mimics+TI","m3","Mimics NC+TI","m4","miR-155 inhibitor+TI","m5","Inhibitor NC+TI"], "paddingInner": 0, "paddingOuter": 0.78}, "axis": null}, "x2": {"field": "b"}, "y": {"field": "top", "type": "quantitative", "scale": {"domain": [0,250], "nice": false}, "axis": null}}},
      {"data": {"name": "bG"}, "mark": {"type": "rule", "color": "#333", "strokeWidth": 2}, "encoding": {"x": {"field": "a", "type": "nominal", "scale": {"type": "band", "domain": ["Control","m1","TI","m2","miR-155 mimics+TI","m3","Mimics NC+TI","m4","miR-155 inhibitor+TI","m5","Inhibitor NC+TI"], "paddingInner": 0, "paddingOuter": 0.78}, "axis": null}, "y": {"field": "fa", "type": "quantitative", "scale": {"domain": [0,250], "nice": false}, "axis": null}, "y2": {"field": "top"}}},
      {"data": {"name": "bG"}, "mark": {"type": "rule", "color": "#333", "strokeWidth": 2}, "encoding": {"x": {"field": "b", "type": "nominal", "scale": {"type": "band", "domain": ["Control","m1","TI","m2","miR-155 mimics+TI","m3","Mimics NC+TI","m4","miR-155 inhibitor+TI","m5","Inhibitor NC+TI"], "paddingInner": 0, "paddingOuter": 0.78}, "axis": null}, "y": {"field": "fb", "type": "quantitative", "scale": {"domain": [0,250], "nice": false}, "axis": null}, "y2": {"field": "top"}}},
      {"data": {"name": "bG"}, "mark": {"type": "text", "fontSize": 30, "baseline": "alphabetic", "dy": -2, "color": "#222"}, "encoding": {"x": {"field": "m", "type": "nominal", "scale": {"type": "band", "domain": ["Control","m1","TI","m2","miR-155 mimics+TI","m3","Mimics NC+TI","m4","miR-155 inhibitor+TI","m5","Inhibitor NC+TI"], "paddingInner": 0, "paddingOuter": 0.78}, "axis": null}, "y": {"field": "top", "type": "quantitative", "scale": {"domain": [0,250], "nice": false}, "axis": null}, "text": {"field": "s"}}},
      {"data": {"name": "pG"}, "mark": {"type": "errorbar", "extent": "stdev", "color": "black", "rule": {"strokeWidth": 2.5}, "ticks": {"size": 22, "thickness": 2.5}}, "encoding": {"x": {"field": "g", "type": "nominal", "scale": {"type": "band", "domain": ["Control","m1","TI","m2","miR-155 mimics+TI","m3","Mimics NC+TI","m4","miR-155 inhibitor+TI","m5","Inhibitor NC+TI"], "paddingInner": 0, "paddingOuter": 0.78}, "axis": null}, "y": {"field": "v", "type": "quantitative", "scale": {"domain": [0,250], "nice": false}, "axis": null}}},
      {"data": {"name": "pG"}, "mark": {"type": "tick", "color": "black", "size": 40, "thickness": 3}, "encoding": {"x": {"field": "g", "type": "nominal", "scale": {"type": "band", "domain": ["Control","m1","TI","m2","miR-155 mimics+TI","m3","Mimics NC+TI","m4","miR-155 inhibitor+TI","m5","Inhibitor NC+TI"], "paddingInner": 0, "paddingOuter": 0.78}, "axis": {"orient": "top", "title": "Grayscale analysis of FOSL1", "domain": false, "ticks": false, "labels": false, "titlePadding": 34}}, "y": {"field": "v", "aggregate": "mean", "type": "quantitative", "scale": {"domain": [0,250], "nice": false}, "axis": null}}},
      {"data": {"name": "pG"}, "mark": {"type": "point", "filled": true, "color": "black", "size": 60, "opacity": 1}, "encoding": {"x": {"field": "g", "type": "nominal", "scale": {"type": "band", "domain": ["Control","m1","TI","m2","miR-155 mimics+TI","m3","Mimics NC+TI","m4","miR-155 inhibitor+TI","m5","Inhibitor NC+TI"], "paddingInner": 0, "paddingOuter": 0.78}, "axis": {"orient": "bottom", "values": ["Control","TI","miR-155 mimics+TI","Mimics NC+TI","miR-155 inhibitor+TI","Inhibitor NC+TI"], "labelAngle": -90, "tickSize": 16, "labelPadding": 12, "title": null, "labelLimit": 0}}, "xOffset": {"field": "r", "type": "nominal"}, "y": {"field": "v", "type": "quantitative", "scale": {"domain": [0,250], "nice": false}, "axis": {"values": [0,50,100,150,200,250], "tickSize": 18, "labelPadding": 6, "title": "Relative expression level", "titlePadding": 16}}}}
     ]},
    {"spacing": 90, "hconcat": [
     {"title": {"text": "H", "dx": -117, "dy": 52}, "width": 268, "height": 455, "resolve": {"axis": {"x": "independent", "y": "independent"}},
      "layer": [
       {"data": {"name": "bH"}, "mark": {"type": "rule", "color": "#333", "strokeWidth": 2}, "encoding": {"x": {"field": "a", "type": "nominal", "scale": {"type": "band", "domain": ["Control","m1","TI","m2","miR-155 mimics+TI"], "paddingInner": 0, "paddingOuter": 0.79}, "axis": null}, "x2": {"field": "b"}, "y": {"field": "top", "type": "quantitative", "scale": {"domain": [0,1000], "nice": false, "range": [455,52]}, "axis": null}}},
       {"data": {"name": "bH"}, "mark": {"type": "rule", "color": "#333", "strokeWidth": 2}, "encoding": {"x": {"field": "a", "type": "nominal", "scale": {"type": "band", "domain": ["Control","m1","TI","m2","miR-155 mimics+TI"], "paddingInner": 0, "paddingOuter": 0.79}, "axis": null}, "y": {"field": "fa", "type": "quantitative", "scale": {"domain": [0,1000], "nice": false, "range": [455,52]}, "axis": null}, "y2": {"field": "top"}}},
       {"data": {"name": "bH"}, "mark": {"type": "rule", "color": "#333", "strokeWidth": 2}, "encoding": {"x": {"field": "b", "type": "nominal", "scale": {"type": "band", "domain": ["Control","m1","TI","m2","miR-155 mimics+TI"], "paddingInner": 0, "paddingOuter": 0.79}, "axis": null}, "y": {"field": "fb", "type": "quantitative", "scale": {"domain": [0,1000], "nice": false, "range": [455,52]}, "axis": null}, "y2": {"field": "top"}}},
       {"data": {"name": "bH"}, "mark": {"type": "text", "fontSize": 30, "baseline": "alphabetic", "dy": -2, "color": "#222"}, "encoding": {"x": {"field": "m", "type": "nominal", "scale": {"type": "band", "domain": ["Control","m1","TI","m2","miR-155 mimics+TI"], "paddingInner": 0, "paddingOuter": 0.79}, "axis": null}, "y": {"field": "top", "type": "quantitative", "scale": {"domain": [0,1000], "nice": false, "range": [455,52]}, "axis": null}, "text": {"field": "s"}}},
       {"data": {"name": "pH"}, "mark": {"type": "errorbar", "extent": "stdev", "color": "black", "rule": {"strokeWidth": 2.5}, "ticks": {"size": 28, "thickness": 2.5}}, "encoding": {"x": {"field": "g", "type": "nominal", "scale": {"type": "band", "domain": ["Control","m1","TI","m2","miR-155 mimics+TI"], "paddingInner": 0, "paddingOuter": 0.79}, "axis": null}, "y": {"field": "v", "type": "quantitative", "scale": {"domain": [0,1000], "nice": false, "range": [455,52]}, "axis": null}}},
       {"data": {"name": "pH"}, "mark": {"type": "tick", "color": "black", "size": 53, "thickness": 3}, "encoding": {"x": {"field": "g", "type": "nominal", "scale": {"type": "band", "domain": ["Control","m1","TI","m2","miR-155 mimics+TI"], "paddingInner": 0, "paddingOuter": 0.79}, "axis": {"orient": "top", "title": "CXCL1", "domain": false, "ticks": false, "labels": false, "titlePadding": 40}}, "y": {"field": "v", "aggregate": "mean", "type": "quantitative", "scale": {"domain": [0,1000], "nice": false, "range": [455,52]}, "axis": null}}},
       {"data": {"name": "pH"}, "mark": {"type": "point", "filled": true, "color": "black", "size": 80, "opacity": 1}, "encoding": {"x": {"field": "g", "type": "nominal", "scale": {"type": "band", "domain": ["Control","m1","TI","m2","miR-155 mimics+TI"], "paddingInner": 0, "paddingOuter": 0.79}, "axis": {"orient": "bottom", "values": ["Control","TI","miR-155 mimics+TI"], "labelAngle": -90, "tickSize": 16, "labelPadding": 12, "title": null, "labelLimit": 0}}, "xOffset": {"field": "r", "type": "nominal"}, "y": {"field": "v", "type": "quantitative", "scale": {"domain": [0,1000], "nice": false, "range": [455,52]}, "axis": {"values": [0,200,400,600,800,1000], "format": "d", "tickSize": 18, "labelPadding": 6, "title": "Concentration (pg/ml)", "titlePadding": 16}}}}
      ]},
     {"title": {"text": "I", "dx": -83, "dy": 51}, "width": 283, "height": 434, "resolve": {"axis": {"x": "independent", "y": "independent"}},
      "layer": [
       {"data": {"name": "bI"}, "mark": {"type": "rule", "color": "#333", "strokeWidth": 2}, "encoding": {"x": {"field": "a", "type": "nominal", "scale": {"type": "band", "domain": ["Control","m1","TI","m2","miR-155 mimics+TI"], "paddingInner": 0, "paddingOuter": 0.857}, "axis": null}, "x2": {"field": "b"}, "y": {"field": "top", "type": "quantitative", "scale": {"domain": [0,2000], "nice": false, "range": [434,10]}, "axis": null}}},
       {"data": {"name": "bI"}, "mark": {"type": "rule", "color": "#333", "strokeWidth": 2}, "encoding": {"x": {"field": "a", "type": "nominal", "scale": {"type": "band", "domain": ["Control","m1","TI","m2","miR-155 mimics+TI"], "paddingInner": 0, "paddingOuter": 0.857}, "axis": null}, "y": {"field": "fa", "type": "quantitative", "scale": {"domain": [0,2000], "nice": false, "range": [434,10]}, "axis": null}, "y2": {"field": "top"}}},
       {"data": {"name": "bI"}, "mark": {"type": "rule", "color": "#333", "strokeWidth": 2}, "encoding": {"x": {"field": "b", "type": "nominal", "scale": {"type": "band", "domain": ["Control","m1","TI","m2","miR-155 mimics+TI"], "paddingInner": 0, "paddingOuter": 0.857}, "axis": null}, "y": {"field": "fb", "type": "quantitative", "scale": {"domain": [0,2000], "nice": false, "range": [434,10]}, "axis": null}, "y2": {"field": "top"}}},
       {"data": {"name": "bI"}, "mark": {"type": "text", "fontSize": 30, "baseline": "alphabetic", "dy": -2, "color": "#222"}, "encoding": {"x": {"field": "m", "type": "nominal", "scale": {"type": "band", "domain": ["Control","m1","TI","m2","miR-155 mimics+TI"], "paddingInner": 0, "paddingOuter": 0.857}, "axis": null}, "y": {"field": "top", "type": "quantitative", "scale": {"domain": [0,2000], "nice": false, "range": [434,10]}, "axis": null}, "text": {"field": "s"}}},
       {"data": {"name": "pI"}, "mark": {"type": "errorbar", "extent": "stdev", "color": "black", "rule": {"strokeWidth": 2.5}, "ticks": {"size": 30, "thickness": 2.5}}, "encoding": {"x": {"field": "g", "type": "nominal", "scale": {"type": "band", "domain": ["Control","m1","TI","m2","miR-155 mimics+TI"], "paddingInner": 0, "paddingOuter": 0.857}, "axis": null}, "y": {"field": "v", "type": "quantitative", "scale": {"domain": [0,2000], "nice": false, "range": [434,10]}, "axis": null}}},
       {"data": {"name": "pI"}, "mark": {"type": "tick", "color": "black", "size": 56, "thickness": 3}, "encoding": {"x": {"field": "g", "type": "nominal", "scale": {"type": "band", "domain": ["Control","m1","TI","m2","miR-155 mimics+TI"], "paddingInner": 0, "paddingOuter": 0.857}, "axis": {"orient": "top", "title": "CXCL8", "domain": false, "ticks": false, "labels": false, "titlePadding": 34}}, "y": {"field": "v", "aggregate": "mean", "type": "quantitative", "scale": {"domain": [0,2000], "nice": false, "range": [434,10]}, "axis": null}}},
       {"data": {"name": "pI"}, "mark": {"type": "point", "filled": true, "color": "black", "size": 80, "opacity": 1}, "encoding": {"x": {"field": "g", "type": "nominal", "scale": {"type": "band", "domain": ["Control","m1","TI","m2","miR-155 mimics+TI"], "paddingInner": 0, "paddingOuter": 0.857}, "axis": {"orient": "bottom", "values": ["Control","TI","miR-155 mimics+TI"], "labelAngle": -90, "tickSize": 16, "labelPadding": 12, "title": null, "labelLimit": 0}}, "xOffset": {"field": "r", "type": "nominal"}, "y": {"field": "v", "type": "quantitative", "scale": {"domain": [0,2000], "nice": false, "range": [434,10]}, "axis": {"values": [0,500,1000,1500,2000], "format": "d", "tickSize": 18, "labelPadding": 6, "title": "Concentration (pg/ml)", "titlePadding": 16}}}}
      ]}
    ]}
   ]}
  ]}
 ]}
]
}
